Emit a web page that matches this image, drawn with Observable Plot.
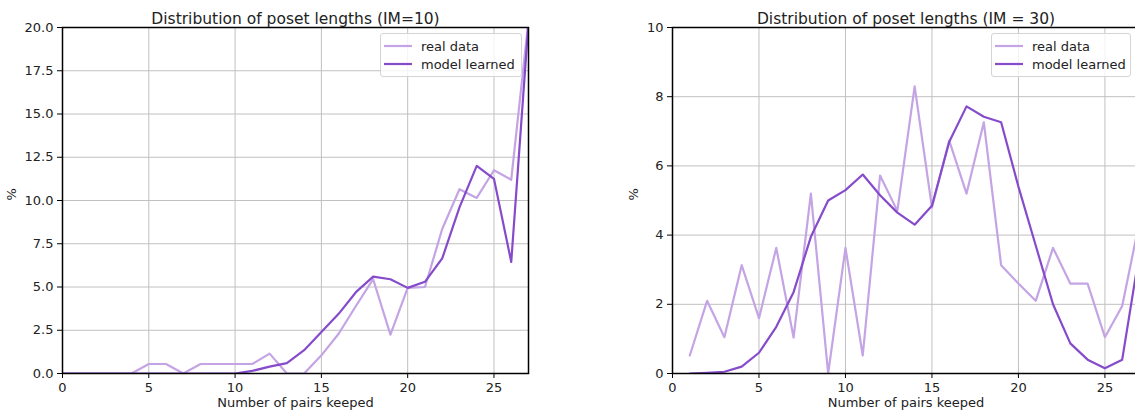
<!DOCTYPE html>
<html>
<head>
<meta charset="utf-8">
<script src="https://cdn.jsdelivr.net/npm/d3@7"></script>
<script src="https://cdn.jsdelivr.net/npm/@observablehq/plot@0.6"></script>
<style>
  html, body { margin: 0; padding: 0; background: #fff; overflow: hidden; }
  #root { position: relative; width: 1135px; height: 414px; overflow: hidden; font-family: "DejaVu Sans", sans-serif; }
  .panel { position: absolute; top: 0; }
  .legend { position: absolute; box-sizing: border-box; border: 1px solid #d4d4d4; border-radius: 3px;
            background: rgba(255,255,255,0.8); font-size: 13px; color: #222; }
  .legend .row { position: absolute; left: 0; height: 18px; display: flex; align-items: center; white-space: nowrap; }
  .legend svg { margin-left: 3px; margin-right: 9px; }
</style>
</head>
<body>
<div id="root"></div>
<script>
// ---- data ----
const xs10 = [0,1,2,3,4,5,6,7,8,9,10,11,12,13,14,15,16,17,18,19,20,21,22,23,24,25,26,27];
const real10 = [0,0,0,0,0,0.55,0.55,0,0.55,0.55,0.55,0.55,1.15,0,0,1.05,2.3,3.9,5.45,2.25,4.95,5.0,8.35,10.65,10.15,11.75,11.2,20.4];
const model10 = [0,0,0,0,0,0,0,0,0,0,0,0.15,0.4,0.6,1.35,2.4,3.45,4.7,5.6,5.45,4.95,5.3,6.65,9.6,12.0,11.25,6.45,20.3];

const xs30 = [1,2,3,4,5,6,7,8,9,10,11,12,13,14,15,16,17,18,19,20,21,22,23,24,25,26,27];
const real30 = [0.52,2.1,1.05,3.13,1.6,3.63,1.04,5.2,0,3.63,0.52,5.72,4.7,8.3,4.8,6.73,5.2,7.26,3.13,2.6,2.1,3.63,2.6,2.6,1.05,1.95,4.4];
const model30 = [0,0.02,0.05,0.2,0.6,1.35,2.35,3.95,5.0,5.3,5.75,5.15,4.65,4.3,4.85,6.7,7.72,7.42,7.26,5.4,3.7,2.0,0.87,0.4,0.15,0.4,3.5];

const xTicks = [0,5,10,15,20,25];
const yTicks10 = [0,2.5,5,7.5,10,12.5,15,17.5,20];
const yTicks30 = [0,2,4,6,8,10];
const seriesNames = ["real data", "model learned"];
const titles = ["Distribution of poset lengths (IM=10)", "Distribution of poset lengths (IM = 30)"];
const xLabel = "Number of pairs keeped";
const yLabel = "%";

const lightColor = "#c4a4e4";
const darkColor = "#864bcb";

function panel({xs, real, model, yDomain, yTicks, yFormat, width, ml, mr, title, yLabelDx}) {
  const realData = xs.map((x, i) => ({x, y: real[i]}));
  const modelData = xs.map((x, i) => ({x, y: model[i]}));
  return Plot.plot({
    width, height: 414,
    marginLeft: ml, marginRight: mr, marginTop: 27, marginBottom: 41,
    style: {fontFamily: "DejaVu Sans", fontSize: "13px", color: "#222", background: "transparent", overflow: "visible"},
    x: {domain: [0, 27]},
    y: {domain: yDomain},
    marks: [
      Plot.gridX(xTicks, {stroke: "#c0c0c0", strokeOpacity: 1, strokeWidth: 1}),
      Plot.gridY(yTicks, {stroke: "#c0c0c0", strokeOpacity: 1, strokeWidth: 1}),
      Plot.line(realData, {x: "x", y: "y", stroke: lightColor, strokeWidth: 2.2, clip: true}),
      Plot.line(modelData, {x: "x", y: "y", stroke: darkColor, strokeWidth: 2.2, clip: true}),
      Plot.frame({stroke: "black", strokeWidth: 1.5}),
      Plot.axisX(xTicks, {tickSize: 5, tickPadding: 4, label: null, stroke: "black"}),
      Plot.axisY(yTicks, {tickSize: 5, tickPadding: 4, tickFormat: yFormat, label: null, stroke: "black"}),
      Plot.text([title], {text: d => d, frameAnchor: "top", dy: -15, fontSize: 15.5}),
      Plot.text([xLabel], {text: d => d, frameAnchor: "bottom", dy: 33}),
      Plot.text([yLabel], {text: d => d, frameAnchor: "left", dx: yLabelDx, rotate: -90})
    ]
  });
}

const root = document.getElementById("root");

const p1 = panel({xs: xs10, real: real10, model: model10, yDomain: [0, 20], yTicks: yTicks10,
  yFormat: d3.format(".1f"), width: 560, ml: 62, mr: 32, title: titles[0], yLabelDx: -51});
p1.classList.add("panel"); p1.style.left = "0px";
root.appendChild(p1);

const p2 = panel({xs: xs30, real: real30, model: model30, yDomain: [0, 10], yTicks: yTicks30,
  yFormat: d3.format("d"), width: 545, ml: 72, mr: 6, title: titles[1], yLabelDx: -39});
p2.classList.add("panel"); p2.style.left = "600px";
root.appendChild(p2);

function legend(left, top, w) {
  const box = document.createElement("div");
  box.className = "legend";
  box.style.left = left + "px"; box.style.top = top + "px";
  box.style.width = w + "px"; box.style.height = "44px";
  [lightColor, darkColor].forEach((c, i) => {
    const row = document.createElement("div");
    row.className = "row";
    row.style.top = (3 + i * 18) + "px";
    row.innerHTML = `<svg width="28" height="6"><line x1="0" x2="28" y1="3" y2="3" stroke="${c}" stroke-width="2.2"/></svg><span>${seriesNames[i]}</span>`;
    box.appendChild(row);
  });
  root.appendChild(box);
}
legend(380, 33, 142);
legend(991, 33, 140);
</script>
</body>
</html>
